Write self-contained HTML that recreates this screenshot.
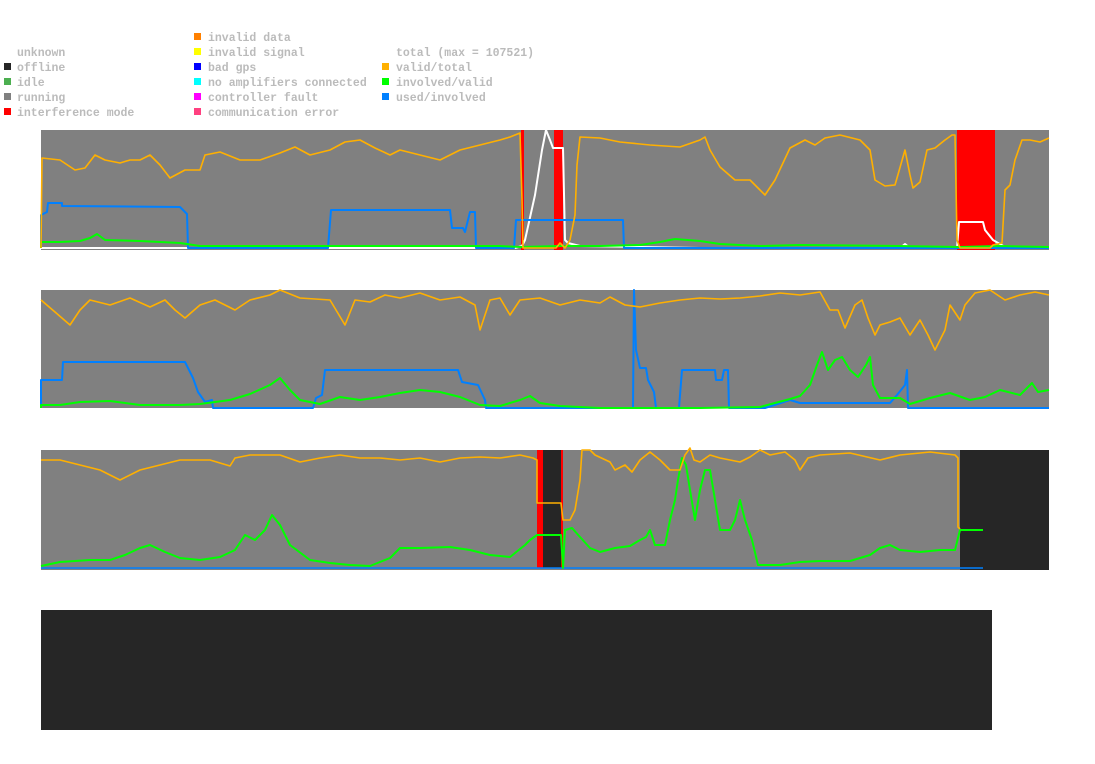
<!DOCTYPE html>
<html><head><meta charset="utf-8"><style>
html,body{margin:0;padding:0;background:#fff;width:1095px;height:764px;overflow:hidden}
.t{font-family:"Liberation Mono","DejaVu Sans Mono",monospace;font-weight:bold;font-size:11.5px;fill:#bbb}
</style></head><body>
<svg width="1095" height="764" xmlns="http://www.w3.org/2000/svg">
<g class="t">
<text x="17" y="56">unknown</text>
<rect x="4" y="63" width="7" height="7" fill="#262626"/><text x="17" y="71">offline</text>
<rect x="4" y="78" width="7" height="7" fill="#4caf50"/><text x="17" y="86">idle</text>
<rect x="4" y="93" width="7" height="7" fill="#808080"/><text x="17" y="101">running</text>
<rect x="4" y="108" width="7" height="7" fill="#ff0000"/><text x="17" y="116">interference mode</text>
<rect x="194" y="33" width="7" height="7" fill="#ff8000"/><text x="208" y="41">invalid data</text>
<rect x="194" y="48" width="7" height="7" fill="#ffff00"/><text x="208" y="56">invalid signal</text>
<rect x="194" y="63" width="7" height="7" fill="#0000ff"/><text x="208" y="71">bad gps</text>
<rect x="194" y="78" width="7" height="7" fill="#00ffff"/><text x="208" y="86">no amplifiers connected</text>
<rect x="194" y="93" width="7" height="7" fill="#ff00ff"/><text x="208" y="101">controller fault</text>
<rect x="194" y="108" width="7" height="7" fill="#ff4080"/><text x="208" y="116">communication error</text>
<text x="396" y="56">total (max = 107521)</text>
<rect x="382" y="63" width="7" height="7" fill="#ffb000"/><text x="396" y="71">valid/total</text>
<rect x="382" y="78" width="7" height="7" fill="#00ff00"/><text x="396" y="86">involved/valid</text>
<rect x="382" y="93" width="7" height="7" fill="#0080ff"/><text x="396" y="101">used/involved</text>
</g>
<g fill="none" stroke-width="2" stroke-linejoin="round">
<!-- panel 1 -->
<rect x="41" y="130" width="1008" height="120" fill="#808080" stroke="none"/>
<rect x="521" y="130" width="3" height="120" fill="#f00" stroke="none"/>
<rect x="554" y="130" width="9" height="120" fill="#f00" stroke="none"/>
<rect x="957" y="130" width="38" height="120" fill="#f00" stroke="none"/>
<polyline stroke="#fff" points="41,248 515,248 522,246 525,240 535,195 542,150 546,130 550,140 553,148 563,148 565,240 568,243 580,246 700,248 900,248 905,244 910,248 957,248 959,222 983,222 985,230 993,240 1005,247 1049,248"/>
<polyline stroke="#0080ff" points="41,248 41,215 47,212 48,203 62,203 62,206 180,207 187,214 188,248 328,248 331,210 450,210 452,228 463,228 465,232 470,212 475,212 476,248 514,248 516,220 623,220 624,248 1049,248"/>
<polyline stroke="#00ff00" points="41,248 41,242 60,242 80,241 90,238 97,234 105,240 140,241 180,243 200,246 300,246 400,246 500,246 520,247 560,246 600,246 640,245 660,242 675,239 700,241 720,244 760,246 800,245 900,246 960,247 1000,246 1049,247"/>
<polyline stroke="#ffb000" stroke-width="1.6" points="41,248 42,158 60,160 75,170 85,168 95,155 105,160 120,163 130,160 140,160 150,155 160,165 170,178 185,170 200,170 205,155 220,152 240,160 260,160 280,153 295,147 310,155 330,150 345,142 360,140 375,148 390,155 400,150 420,155 440,160 460,150 480,145 500,140 510,137 520,133 522,200 523,248 525,248 556,248 560,243 565,248 570,240 575,215 577,165 580,137 600,138 620,142 650,145 680,147 700,140 705,137 710,150 720,167 735,180 750,180 760,190 765,195 775,180 790,148 805,140 815,145 825,138 840,135 860,140 870,150 875,180 885,186 895,185 905,150 910,175 913,188 920,182 927,150 935,148 945,140 952,135 955,135 957,240 960,248 990,248 993,245 1002,243 1005,190 1010,185 1015,160 1022,140 1030,140 1040,142 1049,138"/>
<!-- panel 2 -->
<rect x="41" y="290" width="1008" height="120" fill="#808080" stroke="none"/>
<line x1="41" y1="409" x2="1049" y2="409" stroke="#fff"/>
<polyline stroke="#0080ff" points="41,408 41,380 62,380 63,362 185,362 193,378 198,392 205,402 212,400 213,408 313,408 316,398 322,395 325,370 458,370 462,382 478,385 485,400 486,408 633,408 634,290 636,350 640,368 646,368 648,380 654,392 656,408 679,408 682,370 715,370 716,380 722,380 724,370 728,370 729,408 765,408 790,400 800,403 890,403 897,395 905,385 907,370 908,408 1049,408"/>
<polyline stroke="#00ff00" points="41,408 41,405 60,405 80,402 110,401 140,405 180,405 200,404 230,400 250,394 270,385 280,378 290,390 300,400 320,404 340,397 360,400 380,397 400,393 420,390 440,392 460,397 480,405 500,406 520,400 530,396 540,403 560,406 600,408 640,408 700,408 760,407 790,399 800,396 810,385 817,365 822,352 828,370 835,360 842,357 850,370 858,377 866,365 870,357 873,385 880,398 900,398 910,404 930,398 950,393 970,400 985,397 1000,390 1020,395 1032,383 1038,392 1049,390"/>
<polyline stroke="#ffb000" stroke-width="1.6" points="41,300 55,312 70,325 80,310 90,300 110,305 130,298 150,307 165,300 175,310 185,318 200,305 215,300 235,310 250,300 270,295 280,290 300,298 330,300 345,325 355,300 370,302 385,295 400,298 420,293 440,300 460,297 475,305 480,330 490,300 500,298 510,315 520,300 540,298 560,305 580,300 600,303 610,297 625,305 640,307 660,303 680,300 700,298 720,299 740,298 760,296 780,293 800,295 820,292 830,310 838,310 845,328 855,305 862,300 868,318 875,335 880,325 890,322 900,318 910,335 920,320 928,335 935,350 945,330 950,305 960,320 965,305 975,293 990,290 1005,300 1020,295 1035,292 1049,295"/>
<!-- panel 3 -->
<rect x="41" y="450" width="1008" height="120" fill="#808080" stroke="none"/>
<rect x="537" y="450" width="24" height="118" fill="#262626" stroke="none"/>
<rect x="537" y="450" width="6" height="118" fill="#f00" stroke="none"/>
<rect x="561" y="450" width="2" height="118" fill="#f00" stroke="none"/>
<rect x="960" y="450" width="89" height="120" fill="#262626" stroke="none"/>
<line x1="41" y1="568" x2="983" y2="568" stroke="#0080ff" stroke-width="1.5"/>
<polyline stroke="#00ff00" points="41,566 60,562 90,560 110,560 125,555 140,548 150,545 165,552 180,558 200,560 220,557 235,550 245,535 255,540 265,530 272,515 280,525 290,545 310,560 330,563 350,565 370,566 390,558 400,548 420,548 450,547 470,550 490,555 510,557 525,545 530,540 537,535 561,535 563,568 565,530 572,528 580,537 590,548 600,552 615,548 630,546 640,540 646,537 650,530 655,545 665,545 670,520 675,500 678,480 682,458 686,465 690,490 695,520 700,490 705,470 710,470 715,500 720,530 730,530 735,520 740,500 745,520 752,540 758,565 780,565 800,562 820,561 850,561 870,555 880,548 890,545 900,550 920,552 940,550 955,550 960,530 983,530"/>
<polyline stroke="#ffb000" stroke-width="1.6" points="41,460 60,460 80,465 100,470 120,480 140,470 160,465 180,460 210,460 230,466 235,458 250,455 270,455 280,455 300,462 320,458 340,455 360,458 380,458 400,460 420,458 440,462 460,458 480,457 500,458 520,455 533,458 537,460 537,503 561,503 563,520 570,520 575,510 580,480 582,450 590,450 595,455 610,462 615,470 625,465 632,472 640,460 650,452 660,460 670,470 680,470 685,455 690,448 694,460 700,462 710,455 720,458 740,462 750,457 760,450 770,455 785,452 795,460 800,470 808,458 820,455 850,453 880,460 900,455 930,452 955,455 958,458 958,527 960,529"/>
</g>
<!-- panel 4 -->
<rect x="41" y="610" width="951" height="120" fill="#262626"/>
</svg>
</body></html>
